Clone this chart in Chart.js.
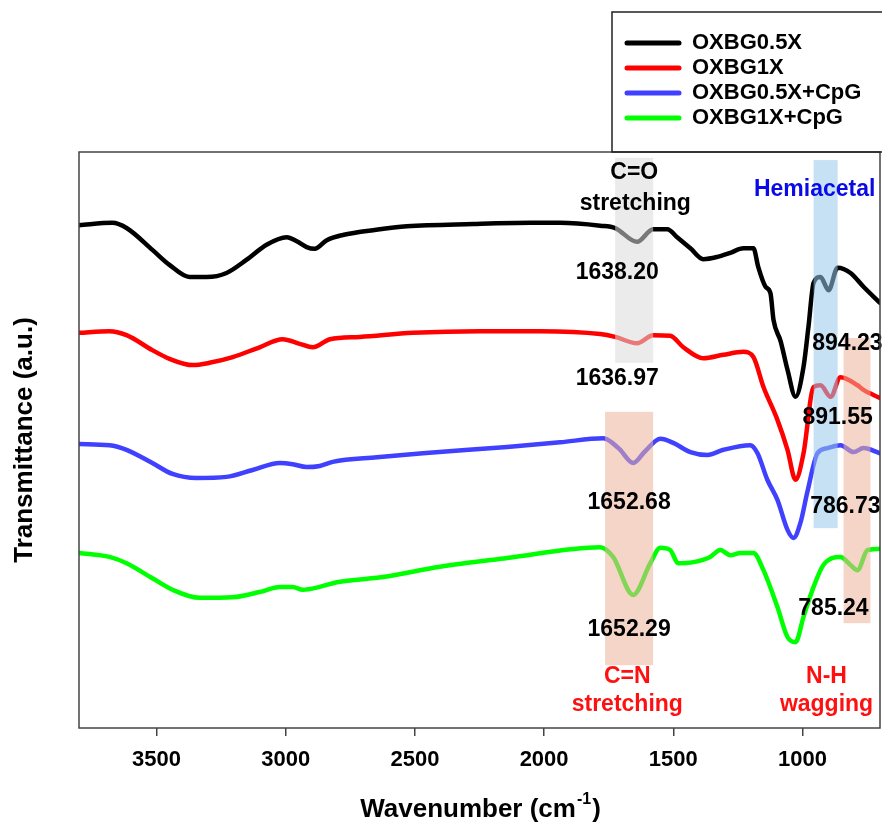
<!DOCTYPE html>
<html>
<head>
<meta charset="utf-8">
<script src="https://cdn.jsdelivr.net/npm/chart.js@4/dist/chart.umd.min.js"></script>
<style>
  body { margin: 0; background: #fff; }
</style>
</head>
<body>
<canvas id="ftir" width="882" height="829"></canvas>
<script>
// spectra: wavenumber (cm-1) and transmittance (a.u., stacked)
var blackWn = [3800,3671,3616,3516,3450,3372,3306,3229,3151,3074,2996,2957,2919,2888,2841,2779,2650,2531,2275,2054,1938,1783,1725,1640,1578,1523,1485,1434,1384,1329,1279,1229,1190,1171,1143,1124,1112,1085,1058,1027,996,977,957,930,899,864,814,764,700];
var blackT  = [87.3,87.7,86.8,83.0,80.4,78.3,78.3,79.0,81.3,83.9,85.2,84.5,83.5,83.2,84.7,85.6,86.5,87.1,87.5,87.7,87.7,87.2,86.8,84.4,86.6,86.6,85.2,83.3,81.4,81.8,82.5,83.3,83.3,80.0,76.6,75.5,70.8,67.2,62.2,57.5,62.7,69.6,77.3,78.3,76.0,79.9,79.0,76.6,73.8];

var redWn = [3800,3682,3616,3516,3450,3360,3295,3205,3101,3012,2946,2895,2829,2713,2508,2248,2016,1783,1725,1640,1578,1512,1461,1384,1306,1229,1190,1151,1097,1058,1027,996,957,930,891,853,787,764,700];
var redT  = [68.6,68.9,68.2,65.6,64.1,63.0,63.4,64.4,66.1,67.5,66.7,66.1,67.5,67.9,68.6,68.9,68.9,68.4,67.9,66.8,68.2,68.1,66.1,64.2,64.8,65.3,64.4,59.2,53.5,48.3,43.1,47.7,59.2,59.5,57.5,60.9,59.5,58.7,57.3];

var blueWn = [3800,3682,3616,3516,3438,3345,3229,3128,3023,2973,2919,2868,2818,2647,2469,2143,1938,1771,1710,1655,1610,1550,1500,1434,1368,1306,1202,1174,1136,1097,1058,1035,1008,981,942,903,853,802,764,700];
var blueT  = [49.3,49.1,48.3,46.0,44.1,43.4,43.6,44.8,46.0,45.8,45.3,45.5,46.2,47.0,47.7,48.8,49.6,50.3,48.5,46.0,48.0,50.2,49.5,47.9,47.4,48.3,49.1,47.7,43.1,39.6,34.4,33.0,35.6,41.0,47.7,48.6,49.1,47.9,48.6,47.7];

var greenWn = [3800,3682,3616,3516,3438,3333,3205,3101,3023,2973,2934,2868,2802,2624,2403,2143,1783,1733,1655,1589,1550,1512,1481,1422,1357,1318,1279,1240,1190,1151,1097,1058,1027,996,957,919,853,814,787,748,700];
var greenT  = [30.4,29.7,28.6,26.0,24.0,22.6,22.7,23.6,24.5,24.5,24.0,24.5,25.3,26.2,28.0,29.5,31.4,29.7,23.1,28.6,31.3,30.9,28.6,28.8,29.7,30.9,30.0,30.4,30.4,27.4,21.0,15.8,14.9,19.3,24.5,28.3,29.7,28.3,27.4,30.9,31.1];

var seriesNames = ['OXBG0.5X', 'OXBG1X', 'OXBG0.5X+CpG', 'OXBG1X+CpG'];
var seriesColors = ['#000000', '#ff0000', '#4040ff', '#00ff00'];
var xTicks = [3500, 3000, 2500, 2000, 1500, 1000];

// highlighted bands [wnFrom, wnTo, tFrom, tTo]
var bandCO  = [1725, 1578, 63.4, 99.0];
var bandHem = [957, 864, 34.7, 98.6];
var bandCN  = [1764, 1578, 10.9, 54.9];
var bandNH  = [841, 737, 18.2, 67.7];

// peak labels and assignments [text, wn, t]
var peakLabels = [
  ['1638.20', 1717, 79.0], ['1636.97', 1717, 60.6], ['1652.68', 1671, 39.2], ['1652.29', 1671, 17.0],
  ['894.23', 826, 66.8], ['891.55', 864, 53.8], ['786.73', 834, 38.4], ['785.24', 880, 20.8]
];
var assignLabels = [
  ['C=O', 1651, 96.4, '#000000'], ['stretching', 1647, 91.1, '#000000'],
  ['Hemiacetal', 953, 93.4, '#0a0ae6'],
  ['C=N', 1678, 8.9, '#ff1010'], ['stretching', 1678, 4.0, '#ff1010'],
  ['N-H', 907, 8.9, '#ff1010'], ['wagging', 907, 4.0, '#ff1010']
];

function toPoints(xs, ys) {
  return xs.map(function (x, i) { return { x: x, y: ys[i] }; });
}

var FONT = '"Liberation Sans", Arial, sans-serif';

var decor = {
  id: 'decor',
  afterDatasetsDraw: function (chart) {
    var ctx = chart.ctx, xs = chart.scales.x, ys = chart.scales.y, a = chart.chartArea;
    function band(b, color) {
      var x1 = xs.getPixelForValue(b[0]), x2 = xs.getPixelForValue(b[1]);
      var y1 = ys.getPixelForValue(b[3]), y2 = ys.getPixelForValue(b[2]);
      ctx.fillStyle = color;
      ctx.fillRect(x1, y1, x2 - x1, y2 - y1);
    }
    ctx.save();
    ctx.beginPath();
    ctx.rect(a.left, a.top, a.right - a.left, a.bottom - a.top);
    ctx.clip();
    band(bandCO, 'rgba(219,219,219,0.55)');
    band(bandHem, 'rgba(151,199,235,0.55)');
    band(bandCN, 'rgba(237,179,155,0.55)');
    band(bandNH, 'rgba(237,179,155,0.55)');
    ctx.restore();

    ctx.save();
    ctx.textAlign = 'center';
    ctx.textBaseline = 'middle';
    ctx.font = 'bold 23px ' + FONT;
    ctx.fillStyle = '#000';
    peakLabels.forEach(function (p) {
      ctx.fillText(p[0], xs.getPixelForValue(p[1]), ys.getPixelForValue(p[2]));
    });
    assignLabels.forEach(function (p) {
      ctx.fillStyle = p[3];
      ctx.fillText(p[0], xs.getPixelForValue(p[1]), ys.getPixelForValue(p[2]));
    });
    ctx.restore();
  },
  afterDraw: function (chart) {
    var ctx = chart.ctx, a = chart.chartArea;
    ctx.save();
    // frame
    ctx.strokeStyle = '#444';
    ctx.lineWidth = 1.5;
    ctx.strokeRect(a.left, a.top, a.right - a.left, a.bottom - a.top);

    // legend box
    ctx.strokeStyle = '#222';
    ctx.lineWidth = 1.5;
    ctx.strokeRect(612, 12, 272, a.top - 12);
    ctx.font = 'bold 22px ' + FONT;
    ctx.textBaseline = 'middle';
    ctx.textAlign = 'left';
    chart.data.datasets.forEach(function (ds, i) {
      var y = 43 + i * 25;
      ctx.strokeStyle = ds.borderColor;
      ctx.lineWidth = 5;
      ctx.lineCap = 'round';
      ctx.beginPath();
      ctx.moveTo(627, y);
      ctx.lineTo(679, y);
      ctx.stroke();
      ctx.fillStyle = '#000';
      ctx.fillText(ds.label, 692, y);
    });

    // x axis title with superscript
    ctx.fillStyle = '#000';
    var main = 'Wavenumber (cm', sup = '-1', close = ')';
    ctx.font = 'bold 26px ' + FONT;
    var w1 = ctx.measureText(main).width, w3 = ctx.measureText(close).width;
    ctx.font = 'bold 16px ' + FONT;
    var w2 = ctx.measureText(sup).width;
    var cx = (a.left + a.right) / 2, ty = 810;
    var x0 = cx - (w1 + w2 + w3) / 2;
    ctx.textAlign = 'left';
    ctx.font = 'bold 26px ' + FONT;
    ctx.fillText(main, x0, ty);
    ctx.font = 'bold 16px ' + FONT;
    ctx.fillText(sup, x0 + w1 + 1, ty - 10);
    ctx.font = 'bold 26px ' + FONT;
    ctx.fillText(close, x0 + w1 + w2 + 2, ty);

    // y axis title
    ctx.translate(25, (a.top + a.bottom) / 2);
    ctx.rotate(-Math.PI / 2);
    ctx.textAlign = 'center';
    ctx.fillText('Transmittance (a.u.)', 0, 0);
    ctx.restore();
  }
};

var allWn = [blackWn, redWn, blueWn, greenWn];
var allT = [blackT, redT, blueT, greenT];

new Chart(document.getElementById('ftir').getContext('2d'), {
  type: 'line',
  data: {
    datasets: seriesNames.map(function (name, i) {
      return {
        label: name,
        data: toPoints(allWn[i], allT[i]),
        borderColor: seriesColors[i],
        borderWidth: 4.5,
        pointRadius: 0,
        cubicInterpolationMode: 'monotone',
        borderCapStyle: 'round',
        borderJoinStyle: 'round',
        fill: false
      };
    })
  },
  options: {
    responsive: false,
    animation: false,
    layout: { padding: { top: 152, right: 2, left: 0, bottom: 0 } },
    plugins: { legend: { display: false }, tooltip: { enabled: false } },
    scales: {
      x: {
        type: 'linear',
        reverse: true,
        min: 700,
        max: 3800,
        afterFit: function (s) { s.height = 101; },
        afterBuildTicks: function (s) { s.ticks = xTicks.map(function (v) { return { value: v }; }); },
        grid: { drawOnChartArea: false, drawTicks: true, tickLength: 8, color: '#444', lineWidth: 1.5 },
        border: { display: false },
        ticks: {
          color: '#000',
          font: { family: FONT, size: 22, weight: 'bold' },
          padding: 11,
          maxRotation: 0,
          callback: function (v) { return String(v); }
        }
      },
      y: {
        min: 0,
        max: 100,
        afterFit: function (s) { s.width = 79; },
        grid: { display: false },
        border: { display: false },
        ticks: { display: false }
      }
    }
  },
  plugins: [decor]
});
</script>
</body>
</html>
